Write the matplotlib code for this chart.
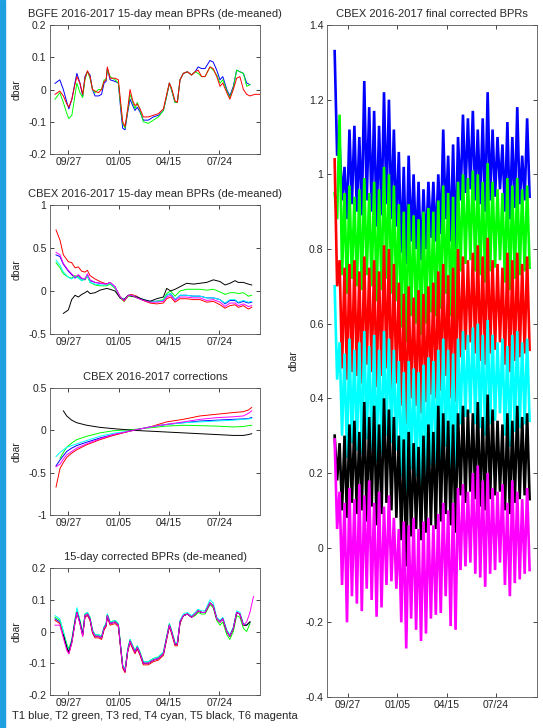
import numpy as np
import matplotlib.pyplot as plt
from matplotlib.ticker import FuncFormatter
from matplotlib.patches import Rectangle

plt.rcParams['font.family'] = ['Liberation Sans', 'DejaVu Sans']

# x axis = days after 2016-09-27
tick_days = [0, 100, 200, 300]
tick_labels = ['09/27', '01/05', '04/15', '07/24']

# MATLAB style line colours, T1..T6
c_t = [(0, 0, 1), (0, 1, 0), (1, 0, 0), (0, 1, 1), (0, 0, 0), (1, 0, 1)]

nan = np.nan

# ---- BGFE 15-day mean (3 sensors) ----
bgfe_days = [-26.5, -17, -10, -3, 1, 7, 13, 17, 23, 28.5, 33, 38, 43, 48, 53, 60, 66, 71, 75, 77.5,
             83, 93, 99.4, 104, 108, 112.7, 118, 122.6, 128, 132.5, 137, 142.5, 149, 159, 169, 179, 189,
             195.5, 200.8, 205, 212, 216.7, 222, 228.6, 236.6, 245, 252, 258, 265, 271.7, 281.6, 288, 295,
             301.5, 307, 315, 321, 328, 334.6, 341, 348, 354.5, 361, 371, 380]
bgfe_blue = [0.019, 0.03, 0.0, -0.04, -0.06, -0.03, 0.02, 0.05, 0.02, -0.02, 0.04, 0.055, 0.045, 0.0, -0.02,
             -0.02, -0.015, 0.02, 0.025, 0.065, 0.03, 0.025, 0.02, -0.06, -0.12, -0.125, -0.07, -0.03, -0.05,
             -0.065, -0.055, -0.07, -0.095, -0.095, -0.085, -0.08, -0.065, -0.02, 0.02, 0.0, -0.04, -0.04, 0.03,
             0.05, 0.055, 0.045, 0.055, 0.07, 0.065, 0.065, 0.09, 0.085, 0.06, 0.03, 0.04, 0.0, -0.02, 0.01,
             0.06, 0.055, 0.05, 0.02, 0.015, nan, nan]
bgfe_green = [-0.03, -0.01, -0.04, -0.075, -0.09, -0.08, -0.02, 0.02, -0.01, -0.025, 0.03, 0.057, 0.035, 0.0,
              -0.01, 0.0, 0.0, 0.03, 0.03, 0.06, 0.04, 0.03, 0.02, -0.05, -0.105, -0.12, -0.065, -0.015, -0.04,
              -0.06, -0.04, -0.065, -0.1, -0.105, -0.095, -0.085, -0.065, -0.02, 0.02, 0.0, -0.04, -0.04, 0.03,
              0.05, 0.055, 0.045, 0.055, 0.05, 0.04, 0.04, 0.07, 0.06, 0.045, 0.02, 0.03, -0.005, -0.025, 0.005,
              0.06, 0.055, 0.05, 0.01, 0.015, nan, nan]
bgfe_red = [-0.015, -0.005, -0.02, -0.045, -0.055, -0.03, 0.015, 0.04, 0.02, -0.015, 0.035, 0.058, 0.04, 0.0,
            -0.005, -0.01, 0.0, 0.025, 0.03, 0.07, 0.035, 0.035, 0.03, -0.04, -0.10, -0.115, -0.06, 0.0, -0.035,
            -0.05, -0.045, -0.06, -0.085, -0.085, -0.08, -0.075, -0.06, -0.015, 0.02, 0.005, -0.035, -0.04, 0.03,
            0.05, 0.055, 0.045, 0.055, 0.06, 0.04, 0.04, 0.07, 0.065, 0.04, 0.01, 0.02, -0.01, -0.03, 0.0,
            0.035, 0.04, 0.0, -0.015, -0.02, -0.015, -0.015]

# ---- CBEX 15-day mean (6 sensors) ----
cbex_days = [-24.5, -16.6, -9.9, 0, 6.6, 13.3, 19.9, 26.5, 33.1, 37.8, 43.1, 53.0, 63.0, 76.2, 82.8, 92.8,
             102.7, 110.7, 119.3, 125.9, 135.9, 149.1, 162.4, 175.6, 188.9, 195.5, 203.4, 212.1, 222.0, 235.3,
             248.5, 261.8, 275.0, 288.3, 301.5, 311.5, 321.4, 331.3, 338.0, 347.9, 357.9, 364.5]
cbex_t1 = [0.42, 0.40, 0.31, 0.23, 0.19, 0.15, 0.18, 0.14, 0.13, 0.19, 0.12, 0.10, 0.09, 0.08, 0.10, 0.05,
           -0.07, -0.10, -0.05, -0.05, -0.07, -0.10, -0.12, -0.12, -0.11, -0.05, -0.03, -0.10, -0.05, -0.05,
           -0.06, -0.06, -0.08, -0.08, -0.10, -0.15, -0.11, -0.11, -0.14, -0.12, -0.14, -0.13]
cbex_t2 = [0.33, 0.27, 0.20, 0.16, 0.15, 0.18, 0.16, 0.12, 0.14, 0.17, 0.10, 0.07, 0.06, 0.06, 0.08, 0.03,
           -0.08, -0.12, -0.06, -0.06, -0.08, -0.11, -0.13, -0.12, -0.10, -0.03, 0.00, -0.06, 0.00, 0.02,
           0.02, 0.02, 0.01, 0.02, -0.01, -0.04, -0.02, -0.02, -0.03, -0.02, -0.06, -0.05]
cbex_t3 = [0.71, 0.59, 0.42, 0.34, 0.33, 0.27, 0.28, 0.23, 0.22, 0.24, 0.18, 0.14, 0.11, 0.08, 0.10, 0.04,
           -0.06, -0.12, -0.05, -0.04, -0.06, -0.11, -0.14, -0.15, -0.14, -0.09, -0.07, -0.13, -0.09, -0.09,
           -0.10, -0.10, -0.13, -0.12, -0.16, -0.20, -0.17, -0.16, -0.19, -0.17, -0.21, -0.19]
cbex_t4 = [0.36, 0.30, 0.22, 0.16, 0.14, 0.17, 0.15, 0.12, 0.15, 0.18, 0.10, 0.08, 0.07, 0.07, 0.09, 0.04,
           -0.07, -0.10, -0.05, -0.05, -0.07, -0.10, -0.12, -0.12, -0.11, -0.05, -0.03, -0.10, -0.05, -0.05,
           -0.06, -0.06, -0.08, -0.08, -0.10, -0.14, -0.10, -0.10, -0.13, -0.11, -0.13, -0.12]
cbex_t5 = [nan, nan, -0.26, -0.22, -0.10, -0.05, -0.07, -0.04, -0.02, 0.00, -0.03, -0.02, 0.01, 0.03, 0.02,
           0.00, -0.08, -0.10, -0.05, -0.06, -0.07, -0.10, -0.12, -0.09, -0.07, 0.03, 0.00, 0.02, 0.05, 0.09,
           0.08, 0.09, 0.10, 0.13, 0.11, 0.07, 0.09, 0.12, 0.10, 0.10, 0.08, 0.07]
cbex_t6 = [0.45, 0.42, 0.32, 0.24, 0.20, 0.16, 0.19, 0.15, 0.14, 0.20, 0.13, 0.10, 0.09, 0.08, 0.10, 0.05,
           -0.07, -0.11, -0.05, -0.05, -0.08, -0.11, -0.13, -0.13, -0.12, -0.07, -0.05, -0.11, -0.07, -0.07,
           -0.08, -0.08, -0.11, -0.10, -0.13, -0.18, -0.14, -0.14, -0.17, -0.15, -0.18, -0.17]

# ---- CBEX corrections ----
corr_days = [-24.5, -16.6, -9.9, -3.3, 6.6, 16.6, 36.4, 63.0, 89.5, 129.2, 162.4, 195.5, 228.6, 261.8,
             294.9, 328.0, 347.9, 357.9, 364.5]
corr_t1 = [-0.42, -0.35, -0.30, -0.25, -0.21, -0.18, -0.14, -0.09, -0.05, 0.0, 0.04, 0.07, 0.09, 0.11,
           0.12, 0.13, 0.135, 0.14, 0.15]
corr_t2 = [nan, -0.33, -0.26, -0.20, -0.15, -0.11, -0.07, -0.03, -0.005, 0.01, 0.03, 0.05, 0.06, 0.055,
           0.05, 0.04, 0.045, 0.055, 0.06]
corr_t3 = [-0.67, -0.45, -0.38, -0.32, -0.27, -0.23, -0.17, -0.11, -0.06, 0.0, 0.04, 0.10, 0.13, 0.17,
           0.19, 0.21, 0.22, 0.24, 0.27]
corr_t4 = [-0.31, -0.26, -0.23, -0.20, -0.18, -0.16, -0.12, -0.07, -0.035, 0.0, 0.04, 0.07, 0.09, 0.10,
           0.11, 0.12, 0.13, 0.135, 0.14]
corr_t5 = [nan, nan, 0.23, 0.17, 0.12, 0.09, 0.06, 0.035, 0.02, 0.0, -0.01, -0.02, -0.03, -0.04,
           -0.05, -0.06, -0.06, -0.05, -0.04]
corr_t6 = [-0.43, -0.40, -0.34, -0.29, -0.25, -0.21, -0.16, -0.10, -0.05, 0.0, 0.04, 0.07, 0.10, 0.13,
           0.15, 0.16, 0.17, 0.20, 0.23]

# ---- 15-day corrected (6 sensors) ----
fix_days = bgfe_days[:63] + [368]
fix_t1 = [0.04, 0.03, -0.01, -0.05, -0.065, -0.03, 0.03, 0.065, 0.03, -0.01, 0.05, 0.055, 0.04, 0.0, -0.015,
          -0.015, -0.02, 0.01, 0.02, 0.05, 0.025, 0.03, 0.02, -0.05, -0.11, -0.125, -0.06, -0.03, -0.05,
          -0.065, -0.05, -0.07, -0.10, -0.10, -0.09, -0.085, -0.07, -0.02, 0.02, 0.0, -0.04, -0.04, 0.03,
          0.05, 0.055, 0.045, 0.055, 0.065, 0.06, 0.06, 0.09, 0.08, 0.04, 0.03, 0.04, 0.0, -0.015, 0.01,
          0.06, 0.055, 0.02, 0.02, 0.03, nan]
fix_t2 = [0.045, 0.035, 0.0, -0.04, -0.055, -0.025, 0.035, 0.07, 0.035, -0.005, 0.055, 0.06, 0.045, 0.005,
          -0.01, -0.01, -0.015, 0.015, 0.025, 0.055, 0.03, 0.035, 0.025, -0.045, -0.105, -0.12, -0.055, -0.025,
          -0.045, -0.06, -0.045, -0.065, -0.095, -0.095, -0.085, -0.08, -0.065, -0.015, 0.025, 0.005, -0.035,
          -0.04, 0.03, 0.05, 0.055, 0.045, 0.05, 0.06, 0.055, 0.055, 0.085, 0.075, 0.035, 0.02, 0.03, -0.01,
          -0.025, 0.0, 0.05, 0.045, 0.01, 0.0, 0.025, nan]
fix_t3 = [0.035, 0.025, -0.015, -0.055, -0.07, -0.035, 0.025, 0.06, 0.025, -0.015, 0.045, 0.05, 0.035, -0.005,
          -0.02, -0.02, -0.025, 0.005, 0.015, 0.045, 0.02, 0.025, 0.015, -0.055, -0.115, -0.13, -0.065, -0.035,
          -0.055, -0.07, -0.055, -0.075, -0.105, -0.105, -0.095, -0.09, -0.075, -0.025, 0.015, -0.005, -0.045,
          -0.045, 0.025, 0.05, 0.055, 0.045, 0.055, 0.065, 0.06, 0.06, 0.09, 0.08, 0.04, 0.03, 0.04, 0.0,
          -0.015, 0.01, 0.06, 0.055, 0.02, 0.02, 0.03, nan]
fix_t4 = [0.05, 0.04, 0.0, -0.045, -0.06, -0.025, 0.035, 0.075, 0.035, -0.005, 0.055, 0.06, 0.045, 0.005,
          -0.01, -0.01, -0.015, 0.015, 0.025, 0.055, 0.03, 0.035, 0.025, -0.045, -0.105, -0.12, -0.055, -0.025,
          -0.045, -0.06, -0.045, -0.065, -0.095, -0.095, -0.085, -0.08, -0.065, -0.015, 0.025, 0.005, -0.035,
          -0.035, 0.035, 0.055, 0.06, 0.05, 0.06, 0.07, 0.065, 0.065, 0.10, 0.09, 0.045, 0.035, 0.045, 0.005,
          -0.01, 0.015, 0.065, 0.06, 0.025, 0.02, 0.03, nan]
fix_t5 = [nan, nan, -0.01, -0.05, -0.065, -0.03, 0.03, 0.06, 0.03, -0.01, 0.05, 0.055, 0.04, 0.0, -0.015,
          -0.015, -0.02, 0.01, 0.02, 0.05, 0.025, 0.03, 0.02, -0.05, -0.11, -0.125, -0.06, -0.03, -0.05,
          -0.065, -0.05, -0.07, -0.10, -0.10, -0.09, -0.085, -0.07, -0.02, 0.02, 0.0, -0.04, -0.04, 0.03,
          0.05, 0.055, 0.045, 0.055, 0.065, 0.06, 0.06, 0.09, 0.08, 0.04, 0.03, 0.04, 0.0, -0.015, 0.01,
          0.06, 0.055, 0.02, 0.02, 0.03, nan]
fix_t6 = [0.02, 0.02, -0.02, -0.06, -0.07, -0.035, 0.025, 0.06, 0.025, -0.015, 0.05, 0.055, 0.04, 0.0,
          -0.015, -0.015, -0.02, 0.01, 0.02, 0.05, 0.025, 0.03, 0.02, -0.05, -0.11, -0.125, -0.06, -0.03,
          -0.05, -0.065, -0.05, -0.07, -0.10, -0.10, -0.09, -0.085, -0.07, -0.02, 0.02, 0.0, -0.04, -0.04,
          0.03, 0.05, 0.055, 0.045, 0.055, 0.065, 0.06, 0.06, 0.09, 0.08, 0.04, 0.03, 0.04, 0.0, -0.015,
          0.01, 0.06, 0.055, 0.02, 0.03, 0.06, 0.11]

# ---- final corrected BPRs: upper and lower swing of each record, every 10 days ----
fin_days = list(range(-27, 364, 10))
fin_hi = [
    [1.33, 1.08, 1.02, 1.12, 1.13, 1.10, 1.25, 1.18, 1.17, 1.13, 1.22, 1.20, 1.12, 1.06, 1.02, 1.05, 1.00, 0.98, 0.96, 0.98,
     0.98, 1.00, 1.12, 1.05, 1.08, 1.10, 1.16, 1.15, 1.17, 1.12, 1.15, 1.22, 1.12, 1.10, 1.08, 1.14, 1.10, 1.18, 1.05, 1.15],
    [0.95, 1.16, 0.95, 0.97, 0.94, 0.96, 0.99, 0.95, 0.98, 0.96, 1.02, 1.00, 0.97, 0.92, 0.90, 0.92, 0.89, 0.88, 0.90, 0.91,
     0.90, 0.93, 0.97, 0.95, 0.94, 0.98, 1.00, 0.99, 1.01, 1.00, 0.98, 1.03, 0.98, 0.96, 0.95, 0.99, 0.97, 0.99, 0.96, 0.97],
    [1.04, 0.77, 0.75, 0.76, 0.77, 0.74, 0.78, 0.75, 0.77, 0.74, 0.81, 0.80, 0.76, 0.71, 0.68, 0.70, 0.67, 0.69, 0.68, 0.70,
     0.71, 0.74, 0.76, 0.73, 0.75, 0.80, 0.78, 0.77, 0.79, 0.81, 0.78, 0.83, 0.77, 0.76, 0.75, 0.79, 0.77, 0.79, 0.76, 0.78],
    [0.70, 0.55, 0.52, 0.56, 0.53, 0.55, 0.58, 0.54, 0.57, 0.53, 0.58, 0.56, 0.53, 0.50, 0.47, 0.50, 0.48, 0.47, 0.49, 0.51,
     0.50, 0.53, 0.56, 0.53, 0.52, 0.56, 0.58, 0.57, 0.59, 0.60, 0.57, 0.61, 0.57, 0.55, 0.56, 0.54, 0.57, 0.58, 0.55, 0.56],
    [0.30, 0.28, 0.30, 0.33, 0.34, 0.31, 0.39, 0.35, 0.38, 0.33, 0.40, 0.37, 0.35, 0.30, 0.29, 0.31, 0.28, 0.27, 0.30, 0.33,
     0.31, 0.38, 0.36, 0.34, 0.33, 0.36, 0.38, 0.37, 0.36, 0.39, 0.35, 0.41, 0.37, 0.34, 0.33, 0.36, 0.34, 0.38, 0.35, 0.36],
    [0.29, 0.15, 0.12, 0.16, 0.13, 0.17, 0.14, 0.18, 0.12, 0.15, 0.11, 0.14, 0.08, 0.05, 0.07, 0.06, 0.08, 0.05, 0.07, 0.08,
     0.06, 0.09, 0.12, 0.10, 0.12, 0.16, 0.17, 0.15, 0.20, 0.22, 0.18, 0.20, 0.16, 0.15, 0.17, 0.12, 0.18, 0.15, 0.13, 0.16],
]
fin_lo = [
    [1.05, 0.93, 0.88, 0.92, 0.90, 0.89, 0.93, 0.90, 0.86, 0.89, 0.92, 0.88, 0.86, 0.79, 0.76, 0.82, 0.80, 0.77, 0.80, 0.83,
     0.82, 0.84, 0.88, 0.82, 0.80, 0.93, 0.95, 0.96, 0.93, 0.92, 0.90, 0.93, 0.94, 0.96, 0.90, 0.88, 0.91, 0.92, 0.93, 0.94],
    [0.88, 0.73, 0.68, 0.72, 0.70, 0.69, 0.73, 0.70, 0.66, 0.69, 0.72, 0.68, 0.66, 0.59, 0.55, 0.62, 0.60, 0.57, 0.60, 0.63,
     0.62, 0.64, 0.68, 0.62, 0.60, 0.74, 0.76, 0.77, 0.74, 0.73, 0.71, 0.74, 0.75, 0.77, 0.71, 0.69, 0.72, 0.73, 0.74, 0.75],
    [0.70, 0.48, 0.45, 0.47, 0.46, 0.44, 0.49, 0.47, 0.43, 0.46, 0.48, 0.42, 0.44, 0.38, 0.33, 0.40, 0.38, 0.36, 0.39, 0.41,
     0.40, 0.42, 0.46, 0.40, 0.39, 0.51, 0.53, 0.55, 0.52, 0.50, 0.49, 0.52, 0.53, 0.55, 0.49, 0.47, 0.50, 0.51, 0.52, 0.53],
    [0.45, 0.30, 0.24, 0.28, 0.26, 0.25, 0.29, 0.26, 0.23, 0.25, 0.30, 0.28, 0.26, 0.19, 0.13, 0.21, 0.19, 0.16, 0.18, 0.22,
     0.22, 0.23, 0.27, 0.20, 0.19, 0.33, 0.35, 0.36, 0.33, 0.32, 0.30, 0.33, 0.34, 0.36, 0.30, 0.27, 0.31, 0.32, 0.33, 0.34],
    [0.18, 0.10, 0.08, 0.12, 0.09, 0.10, 0.07, 0.11, 0.06, 0.09, 0.12, 0.10, 0.08, 0.02, -0.05, 0.03, 0.05, 0.02, 0.04, 0.06,
     0.05, 0.07, 0.09, 0.06, 0.04, 0.14, 0.12, 0.15, 0.13, 0.11, 0.10, 0.13, 0.14, 0.15, 0.10, 0.09, 0.12, 0.13, 0.14, 0.13],
    [0.05, -0.10, -0.20, -0.13, -0.15, -0.17, -0.11, -0.14, -0.185, -0.16, -0.10, -0.09, -0.11, -0.20, -0.27, -0.19, -0.22,
     -0.25, -0.23, -0.19, -0.18, -0.175, -0.13, -0.21, -0.22, -0.06, -0.05, -0.04, -0.07, -0.08, -0.105, -0.07, -0.06, -0.04,
     -0.10, -0.13, -0.095, -0.085, -0.07, -0.06],
]

txt = '#262626'
fig = plt.figure(figsize=(5.43, 7.28), dpi=100)
fig.patches.append(Rectangle((0, 0), 5 / 543, 1, transform=fig.transFigure, color='#1EA0E0', zorder=0))


def style(ax, xlim, ylim, yticks):
    ax.set_xlim(xlim)
    ax.set_ylim(ylim)
    ax.set_yticks(yticks)
    ax.set_xticks(tick_days)
    ax.set_xticklabels(tick_labels)
    ax.yaxis.set_major_formatter(FuncFormatter(lambda v, p: '%g' % round(v, 2)))
    ax.tick_params(direction='in', top=True, right=True, length=3, width=0.6,
                   labelsize=7.5, colors=txt, pad=2.5)
    for s in ax.spines.values():
        s.set_linewidth(0.6)
        s.set_color('#555555')
    ax.set_ylabel('dbar', fontsize=7.5, color=txt, labelpad=5)


lw = 0.7
W = 210 / 543
tpad = 6
ax1 = fig.add_axes([50 / 543, 1 - 154 / 728, W, 129 / 728])
for y, c in zip([bgfe_blue, bgfe_green, bgfe_red], c_t[:3]):
    ax1.plot(bgfe_days, y, color=c, lw=lw)
style(ax1, (-36.5, 381), (-0.2, 0.2), [-0.2, -0.1, 0, 0.1, 0.2])
ax1.set_title('BGFE 2016-2017 15-day mean BPRs (de-meaned)', fontsize=8, color=txt, pad=tpad)

ax2 = fig.add_axes([50 / 543, 1 - 334 / 728, W, 129 / 728])
for y, c in zip([cbex_t1, cbex_t2, cbex_t3, cbex_t4, cbex_t5, cbex_t6], c_t):
    ax2.plot(cbex_days, y, color=c, lw=lw)
style(ax2, (-36.5, 381), (-0.5, 1), [-0.5, 0, 0.5, 1])
ax2.set_title('CBEX 2016-2017 15-day mean BPRs (de-meaned)', fontsize=8, color=txt, pad=tpad)

ax3 = fig.add_axes([50 / 543, 1 - 515 / 728, W, 127 / 728])
for y, c in zip([corr_t1, corr_t2, corr_t3, corr_t4, corr_t5, corr_t6], c_t):
    ax3.plot(corr_days, y, color=c, lw=lw)
style(ax3, (-36.5, 381), (-1, 0.5), [-1, -0.5, 0, 0.5])
ax3.set_title('CBEX 2016-2017 corrections', fontsize=8, color=txt, pad=tpad)

ax4 = fig.add_axes([50 / 543, 1 - 695 / 728, W, 127 / 728])
for y, c in zip([fix_t1, fix_t2, fix_t3, fix_t4, fix_t5, fix_t6], c_t):
    ax4.plot(fix_days, y, color=c, lw=lw)
style(ax4, (-36.5, 381), (-0.2, 0.2), [-0.2, -0.1, 0, 0.1, 0.2])
ax4.set_title('15-day corrected BPRs (de-meaned)', fontsize=8, color=txt, pad=tpad)
ax4.set_xlabel('T1 blue, T2 green, T3 red, T4 cyan, T5 black, T6 magenta', fontsize=8, color=txt, labelpad=2)

ax5 = fig.add_axes([327 / 543, 1 - 697 / 728, W, 672 / 728])
fd = np.array(fin_days, dtype=float)
xz = np.ravel(np.column_stack([fd, fd + 5]))
for hi, lo, c in zip(fin_hi, fin_lo, c_t):
    yz = np.ravel(np.column_stack([hi, lo]))
    ax5.plot(xz, yz, color=c, lw=1.9, solid_joinstyle='miter')
style(ax5, (-42.5, 383), (-0.4, 1.4), [-0.4, -0.2, 0, 0.2, 0.4, 0.6, 0.8, 1, 1.2, 1.4])
ax5.set_title('CBEX 2016-2017 final corrected BPRs', fontsize=8, color=txt, pad=tpad)

fig.savefig('out.png', dpi=100)
